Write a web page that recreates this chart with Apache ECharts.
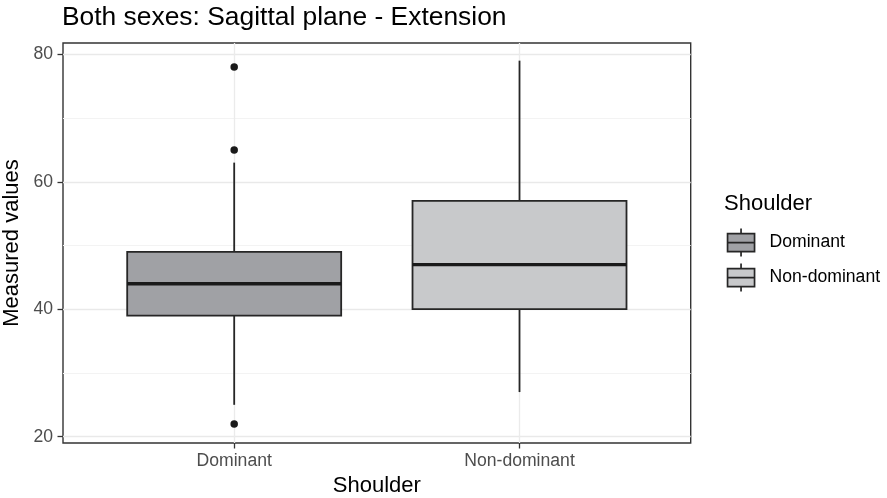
<!DOCTYPE html>
<html>
<head>
<meta charset="utf-8">
<script src="https://cdn.jsdelivr.net/npm/echarts@6/dist/echarts.min.js"></script>
<style>
  html, body { margin: 0; padding: 0; background: #fff; }
  #main { width: 887px; height: 498px; }
</style>
</head>
<body>
<div id="main"></div>
<script>
// data
var categories = ["Dominant", "Non-dominant"];
var lowWhisker = [25, 27];
var q1 = [39, 40];
var median = [44, 47];
var q3 = [49, 57];
var highWhisker = [63, 79];
// outliers: which group, and the value
var outlierGroup = ["Dominant", "Dominant", "Dominant"];
var outlierValue = [78, 65, 22];
var yTicks = [20, 40, 60, 80];
var yMinorTicks = [30, 50, 70];

var fills = ["#a0a1a5", "#c8c9cb"];
var font = "Liberation Sans, Arial, sans-serif";

(function () {
  var myChart = echarts.init(document.getElementById("main"));

  // box drawn through the axes (value x axis, category i sits at i+1)
  function renderBox(params, api) {
    var x = api.coord([api.value(0), 0])[0];
    var yLow = api.coord([api.value(0), api.value(1)])[1];
    var yQ1 = api.coord([api.value(0), api.value(2)])[1];
    var yMed = api.coord([api.value(0), api.value(3)])[1];
    var yQ3 = api.coord([api.value(0), api.value(4)])[1];
    var yHigh = api.coord([api.value(0), api.value(5)])[1];
    var w = api.size([0.75, 0])[0];
    return {
      type: "group",
      children: [
        { type: "line", shape: { x1: x, y1: yHigh, x2: x, y2: yQ3 }, style: { stroke: "#262626", lineWidth: 1.8 } },
        { type: "line", shape: { x1: x, y1: yQ1, x2: x, y2: yLow }, style: { stroke: "#262626", lineWidth: 1.8 } },
        { type: "rect", shape: { x: x - w / 2, y: yQ3, width: w, height: yQ1 - yQ3 },
          style: { fill: api.visual("color"), stroke: "#262626", lineWidth: 1.8 } },
        { type: "line", shape: { x1: x - w / 2, y1: yMed, x2: x + w / 2, y2: yMed },
          style: { stroke: "#1a1a1a", lineWidth: 3.4 } }
      ]
    };
  }

  var boxSeries = categories.map(function (name, i) {
    return {
      name: name,
      type: "custom",
      renderItem: renderBox,
      itemStyle: { color: fills[i] },
      encode: { x: 0, y: [1, 2, 3, 4, 5] },
      data: [[i + 1, lowWhisker[i], q1[i], median[i], q3[i], highWhisker[i]]],
      z: 2
    };
  });

  var outlierData = outlierValue.map(function (v, k) {
    return [categories.indexOf(outlierGroup[k]) + 1, v];
  });

  var legendIcon = "path://M0,5 H27 V23 H0 Z M0,14 H27 M13.5,0 V5 M13.5,23 V28 M37,14";

  var option = {
    backgroundColor: "#fff",
    animation: false,
    title: [
      {
        text: "Both sexes: Sagittal plane - Extension",
        left: 62,
        top: 5,
        padding: 0,
        textStyle: { fontFamily: font, fontSize: 26.4, fontWeight: "normal", color: "#000" }
      },
      {
        text: "Shoulder",
        left: 724,
        top: 193,
        padding: 0,
        textStyle: { fontFamily: font, fontSize: 22, fontWeight: "normal", color: "#000" }
      }
    ],
    legend: {
      orient: "vertical",
      left: 726.7,
      top: 227.7,
      padding: 0,
      itemWidth: 37,
      itemHeight: 28,
      itemGap: 5.3,
      textStyle: { fontFamily: font, fontSize: 17.6, color: "#000" },
      data: categories.map(function (name, i) {
        return {
          name: name,
          icon: legendIcon,
          itemStyle: { color: fills[i], borderColor: "#262626", borderWidth: 1.7 }
        };
      })
    },
    grid: {
      left: 63,
      right: 196.3,
      top: 43,
      bottom: 55,
      show: true,
      borderColor: "#333",
      borderWidth: 1.4,
      backgroundColor: "#fff",
      outerBoundsMode: "none"
    },
    xAxis: {
      type: "value",
      min: 0.4,
      max: 2.6,
      name: "Shoulder",
      nameLocation: "middle",
      nameGap: 25,
      nameTextStyle: { fontFamily: font, fontSize: 22, color: "#000" },
      axisLine: { show: false },
      axisTick: { show: true, length: 5.5, customValues: [1, 2], lineStyle: { color: "#333", width: 1.3 } },
      axisLabel: {
        customValues: [1, 2],
        margin: 9,
        fontFamily: font,
        fontSize: 17.6,
        color: "#4d4d4d",
        formatter: function (v) {
          return categories[Math.round(v) - 1] || "";
        }
      },
      splitLine: { show: true, lineStyle: { color: "#ebebeb", width: 1.3 } }
    },
    yAxis: [
      {
        type: "value",
        min: 19.01,
        max: 81.77,
        name: "Measured values",
        nameLocation: "middle",
        nameGap: 35,
        nameTextStyle: { fontFamily: font, fontSize: 22, color: "#000" },
        axisLine: { show: false },
        axisTick: { show: true, length: 5.5, customValues: yTicks, lineStyle: { color: "#333", width: 1.3 } },
        axisLabel: {
          customValues: yTicks,
          margin: 10,
          fontFamily: font,
          fontSize: 17.6,
          color: "#4d4d4d"
        },
        splitLine: { show: true, lineStyle: { color: "#e9e9e9", width: 1.3 } }
      },
      {
        // only carries the minor grid lines
        type: "value",
        min: 19.01,
        max: 81.77,
        position: "left",
        axisLine: { show: false },
        axisTick: { show: false, customValues: yMinorTicks },
        axisLabel: { show: false, customValues: yMinorTicks },
        splitLine: { show: true, lineStyle: { color: "#f3f3f3", width: 1.1 } }
      }
    ],
    series: boxSeries.concat([
      {
        name: "outliers",
        type: "scatter",
        symbol: "circle",
        symbolSize: 7.5,
        itemStyle: { color: "#1a1a1a", opacity: 1 },
        data: outlierData,
        z: 3
      }
    ])
  };

  myChart.setOption(option);
  window.addEventListener("resize", function () {
    myChart.resize();
  });
})();
</script>
</body>
</html>
